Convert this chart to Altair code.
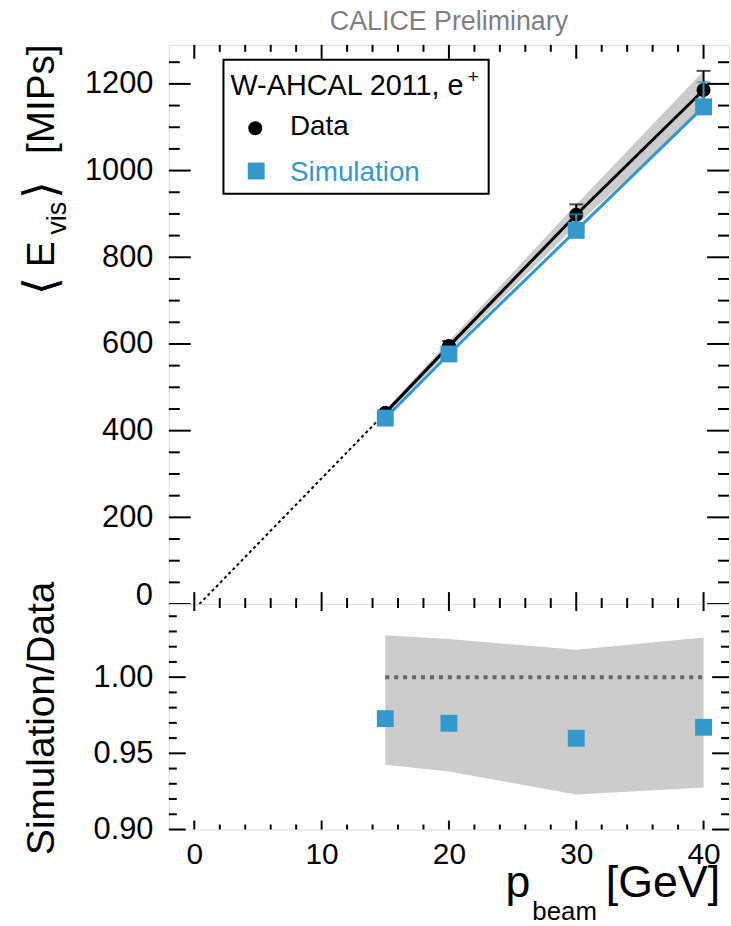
import altair as alt
import pandas as pd

# Beam momentum of each run [GeV]
p_beam = [15, 20, 30, 40]
# Mean visible energy [MIPs] with uncertainties
data_evis = [441, 595, 898, 1186]
data_err = [6, 12, 24, 44]
sim_evis = [429, 577, 862, 1147]
sim_err = [8, 16, 37, 57]
# Uncertainty band of the Simulation/Data ratio
ratio_band_hi = [1.0275, 1.025, 1.018, 1.026]
ratio_band_lo = [0.9425, 0.938, 0.923, 0.9275]
# Linear extrapolation of the data towards zero energy
extrap_p = [0.4, 15]
extrap_evis = [0, 441]

# Tick values
x_major = [0, 10, 20, 30, 40]
x_minor = [2, 4, 6, 8, 12, 14, 16, 18, 22, 24, 26, 28, 32, 34, 36, 38]
evis_major = [0, 200, 400, 600, 800, 1000, 1200]
evis_minor = [50, 100, 150, 250, 300, 350, 450, 500, 550, 650, 700, 750,
              850, 900, 950, 1050, 1100, 1150, 1250]
ratio_major = [0.90, 0.95, 1.00]
ratio_minor = [0.91, 0.92, 0.93, 0.94, 0.96, 0.97, 0.98, 0.99,
               1.01, 1.02, 1.03, 1.04]

FONT = "Liberation Sans"
BLUE = "#3399cc"
GREY = "#cccccc"
W = 564
H_TOP = 563
H_BOT = 227

df = pd.DataFrame({
    "p": p_beam,
    "data": data_evis,
    "sim": sim_evis,
    "rband_hi": ratio_band_hi,
    "rband_lo": ratio_band_lo,
})
df["data_lo"] = df["data"] - pd.Series(data_err)
df["data_hi"] = df["data"] + pd.Series(data_err)
df["sim_hi"] = df["sim"] + pd.Series(sim_err)
df["ratio"] = df["sim"] / df["data"]

df_extrap = pd.DataFrame({"p": extrap_p, "evis": extrap_evis})
df_unity = pd.DataFrame({"p": [p_beam[0], p_beam[-1]], "r": [1.0, 1.0]})

x_scale = alt.Scale(domain=[-2, 42], nice=False, zero=False)
evis_scale = alt.Scale(domain=[0, 1290], nice=False, zero=False)
ratio_scale = alt.Scale(domain=[0.9, 1.048], nice=False, zero=False)

# the zero label of the upper panel is drawn separately, raised off the panel edge
evis_axis = alt.Axis(values=evis_major, title=None, ticks=False, domain=False,
                     grid=False, labelFontSize=31, labelPadding=16,
                     labelFlush=False, labelColor="black", labelFont=FONT,
                     format="d", labelExpr="datum.value == 0 ? '' : datum.label")
ratio_axis = alt.Axis(values=ratio_major, title=None, ticks=False, domain=False,
                      grid=False, labelFontSize=31, labelPadding=16,
                      labelFlush=False, labelColor="black", labelFont=FONT,
                      format=".2f")
x_axis_bot = alt.Axis(values=x_major, title=None, ticks=False, domain=False,
                      grid=False, labelFontSize=30, labelPadding=10,
                      labelFlush=False, labelColor="black", labelFont=FONT)

X_TOP = alt.X("p:Q", scale=x_scale, axis=None)
X_BOT = alt.X("p:Q", scale=x_scale, axis=x_axis_bot)


def label(text, x, y, size, color="black", angle=0, align="left",
          baseline="alphabetic", font=FONT):
    return alt.Chart(pd.DataFrame({"t": [text]})).mark_text(
        font=font, fontSize=size, color=color, angle=angle, align=align,
        baseline=baseline
    ).encode(text="t:N", x=alt.value(x), y=alt.value(y))


def y_ticks(values, scale, axis, length):
    d = pd.DataFrame({"v": values})
    left = alt.Chart(d).mark_rule(color="black", strokeWidth=2).encode(
        y=alt.Y("v:Q", scale=scale, axis=axis), x=alt.value(0), x2=alt.value(length))
    right = alt.Chart(d).mark_rule(color="black", strokeWidth=2).encode(
        y=alt.Y("v:Q", scale=scale, axis=axis), x=alt.value(W - length), x2=alt.value(W))
    return [left, right]


def x_ticks(values, xenc_axis, y0, y1):
    d = pd.DataFrame({"v": values})
    return alt.Chart(d).mark_rule(color="black", strokeWidth=2).encode(
        x=alt.X("v:Q", scale=x_scale, axis=xenc_axis), y=alt.value(y0), y2=alt.value(y1))


base = alt.Chart(df)

# ---------- upper panel: mean visible energy ----------
Y = lambda f: alt.Y(f"{f}:Q", scale=evis_scale, axis=evis_axis)

top_layers = [
    base.mark_area(color=GREY).encode(x=X_TOP, y=Y("data_lo"), y2="data_hi:Q"),
    alt.Chart(df_extrap).mark_line(color="black", strokeWidth=2, strokeDash=[3, 3]).encode(
        x=X_TOP, y=Y("evis")),
    base.mark_line(color="black", strokeWidth=3).encode(x=X_TOP, y=Y("data")),
    base.mark_line(color=BLUE, strokeWidth=3).encode(x=X_TOP, y=Y("sim")),
    base.mark_rule(color="black", strokeWidth=2).encode(x=X_TOP, y=Y("data_lo"), y2="data_hi:Q"),
    base.mark_tick(color="black", orient="horizontal", size=14, thickness=2).encode(
        x=X_TOP, y=Y("data_hi")),
    base.mark_tick(color="black", orient="horizontal", size=14, thickness=2).encode(
        x=X_TOP, y=Y("data_lo")),
    base.mark_point(shape="circle", filled=True, size=200, color="black", opacity=1).encode(
        x=X_TOP, y=Y("data")),
    base.mark_rule(color=BLUE, strokeWidth=2).encode(x=X_TOP, y=Y("sim"), y2="sim_hi:Q"),
    base.mark_tick(color=BLUE, orient="horizontal", size=14, thickness=2).encode(
        x=X_TOP, y=Y("sim_hi")),
    base.mark_point(shape="square", filled=True, size=289, color=BLUE, opacity=1).encode(
        x=X_TOP, y=Y("sim")),
    alt.Chart(pd.DataFrame({"v": [0]})).mark_text(
        font=FONT, fontSize=31, align="right", baseline="middle", dy=-8, color="black"
    ).encode(y=Y("v"), x=alt.value(-16), text="v:Q"),
]
# inward ticks on all four sides
top_layers += y_ticks(evis_major, evis_scale, evis_axis, 22)
top_layers += y_ticks(evis_minor, evis_scale, evis_axis, 11)
top_layers += [
    x_ticks(x_major, None, 0, 14),
    x_ticks(x_minor, None, 0, 7),
    x_ticks(x_major, None, H_TOP - 12, H_TOP),
    x_ticks(x_minor, None, H_TOP - 6, H_TOP),
]
# legend box
top_layers += [
    alt.Chart(pd.DataFrame({"t": [0]})).mark_rect(
        fill="white", stroke="black", strokeWidth=2).encode(
        x=alt.value(55), x2=alt.value(322), y=alt.value(15), y2=alt.value(150)),
    label("W-AHCAL 2011, e", 62, 50, 29),
    label("+", 301, 38, 19),
    alt.Chart(pd.DataFrame({"t": [0]})).mark_point(
        shape="circle", filled=True, size=200, color="black", opacity=1).encode(
        x=alt.value(87), y=alt.value(84)),
    label("Data", 122, 91, 28),
    alt.Chart(pd.DataFrame({"t": [0]})).mark_point(
        shape="square", filled=True, size=289, color=BLUE, opacity=1).encode(
        x=alt.value(88), y=alt.value(127)),
    label("Simulation", 122, 137, 28, color=BLUE),
]
# header and y title
top_layers += [
    label("CALICE Preliminary", 282, -15, 27, color="#7f7f7f", align="center"),
    label("⟨", -114, 252, 46, angle=270),
    label("E", -116, 224, 39, angle=270),
    label("vis", -104, 191, 27, angle=270),
    label("⟩", -114, 155, 46, angle=270),
    label("[MIPs]", -116, 110, 39, angle=270),
]

top = alt.layer(*top_layers).properties(width=W, height=H_TOP)

# ---------- lower panel: Simulation/Data ratio ----------
R = lambda f: alt.Y(f"{f}:Q", scale=ratio_scale, axis=ratio_axis)

bot_layers = [
    base.mark_area(color=GREY).encode(x=X_BOT, y=R("rband_lo"), y2="rband_hi:Q"),
    alt.Chart(df_unity).mark_line(color="#666666", strokeWidth=4, strokeDash=[4, 5]).encode(
        x=X_BOT, y=R("r")),
    base.mark_point(shape="square", filled=True, size=289, color=BLUE, opacity=1).encode(
        x=X_BOT, y=R("ratio")),
]
bot_layers += y_ticks(ratio_major, ratio_scale, ratio_axis, 17)
bot_layers += y_ticks(ratio_minor, ratio_scale, ratio_axis, 8)
bot_layers += [
    x_ticks(x_major, x_axis_bot, 0, 7),
    x_ticks(x_minor, x_axis_bot, 0, 4),
    x_ticks(x_major, x_axis_bot, H_BOT - 9, H_BOT),
    x_ticks(x_minor, x_axis_bot, H_BOT - 5, H_BOT),
]
bot_layers += [
    label("Simulation/Data", -116, 115, 39, angle=270, align="center"),
    label("p", 339, 295, 45),
    label("beam", 366, 318, 26),
    label("[GeV]", 440, 295, 45),
]

bottom = alt.layer(*bot_layers).properties(width=W, height=H_BOT)

chart = alt.vconcat(top, bottom, spacing=0, bounds="flush").properties(
    padding={"left": 18, "top": 4, "right": 0, "bottom": 0}
).configure_view(
    stroke="black", strokeWidth=2
).configure(font=FONT, background="white")

chart.save("out.html", embed_options={"renderer": "svg", "actions": False})
